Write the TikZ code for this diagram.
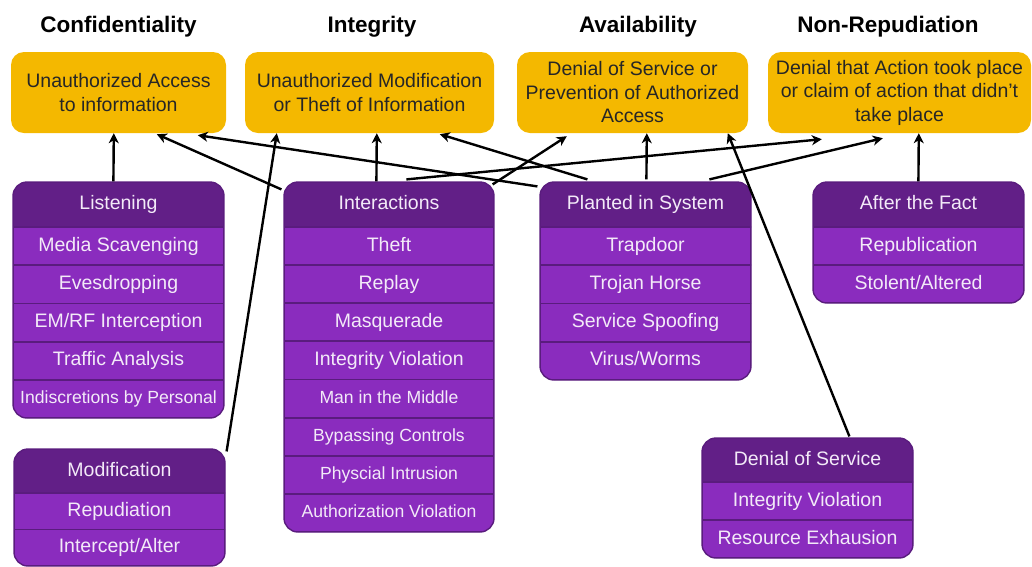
\documentclass[tikz,border=0pt]{standalone}
\usepackage{fontspec}
\setmainfont{Liberation Sans}
\usetikzlibrary{arrows.meta,calc}
\definecolor{gold}{HTML}{F4B800}
\definecolor{hdrc}{HTML}{621F87}
\definecolor{rowc}{HTML}{8A2CBE}
\definecolor{sepc}{HTML}{5A1C7E}
\definecolor{ptxt}{HTML}{F3EAF8}
\definecolor{ytxt}{HTML}{262626}
\newcommand{\fsz}[2]{\fontsize{#1}{#2}\selectfont}
\newcommand{\smf}{\fontsize{17.6}{20}\selectfont}
\tikzset{
  title/.style={font=\bfseries\fsz{22.5}{26}, text=black, inner sep=0, anchor=base},
  goal/.style={rounded corners=13, fill=gold, text=ytxt, align=center,
    font=\fsz{19.5}{23.5}, inner sep=0},
  hdrbox/.style={rectangle, fill=hdrc, draw=sepc, line width=1.2pt, inner sep=0,
    text=ptxt, font=\fsz{19.5}{23}, text height=14pt, text depth=4pt},
  rowbox/.style={rectangle, fill=rowc, draw=sepc, line width=1.8pt, inner sep=0,
    text=ptxt, font=\fsz{19.5}{23}, text height=14pt, text depth=4pt},
  frame/.style={draw=sepc, line width=1.4pt, rounded corners=14},
  conn/.style={-{Stealth[length=10pt,width=10pt,inset=3pt]}, line width=2.4pt, black},
}
\newcommand{\rowsat}[6]{%
  \foreach \t [count=\i] in {#6} {%
    \node[rowbox, minimum width=#5, minimum height=#4] (#1\i) at (#2, {#3+#4*\i-#4/2}) {\t};}}
\begin{document}
\begin{tikzpicture}[x=1pt,y=-1pt]
\useasboundingbox (0,0) rectangle (1032,566);

% titles
\node[title] (tC) at (118.5,32) {Confidentiality};
\node[title] (tI) at (372,32) {Integrity};
\node[title] (tA) at (638,32) {Availability};
\node[title] (tN) at (888,32) {Non-Repudiation};

% goal boxes
\node[goal, minimum width=215, minimum height=81] (conf) at (118.5,92.5) {Unauthorized Access\\to information};
\node[goal, minimum width=249, minimum height=81] (integ) at (369.5,92.5) {Unauthorized Modification\\or Theft of Information};
\node[goal, minimum width=231, minimum height=81] (avail) at (632.5,92.5) {Denial of Service or\\Prevention of Authorized\\Access};
\node[goal, minimum width=263, minimum height=81] (nonrep) at (899.5,92.5) {Denial that Action took place\\or claim of action that didn't\\take place};

% Listening
\begin{scope}
  \clip[rounded corners=14] (13,182) rectangle (224,418);
  \node[hdrbox, minimum width=211, minimum height=45] (lisH) at (118.5,204.5) {Listening};
  \rowsat{lis}{118.5}{227}{38.2}{211}{Media Scavenging, Evesdropping, EM/RF Interception, Traffic Analysis, {\smf Indiscretions by Personal}}
\end{scope}
\draw[frame] (13,182) rectangle (224,418);

% Interactions
\begin{scope}
  \clip[rounded corners=14] (284,182) rectangle (494,532);
  \node[hdrbox, minimum width=210, minimum height=45] (intH) at (389,204.5) {Interactions};
  \rowsat{int}{389}{227}{38.125}{210}{Theft, Replay, Masquerade, Integrity Violation, {\smf Man in the Middle}, {\smf Bypassing Controls}, {\smf Physcial Intrusion}, {\smf Authorization Violation}}
\end{scope}
\draw[frame] (284,182) rectangle (494,532);

% Planted in System
\begin{scope}
  \clip[rounded corners=14] (540,182) rectangle (751,380);
  \node[hdrbox, minimum width=211, minimum height=45] (plaH) at (645.5,204.5) {Planted in System};
  \rowsat{pla}{645.5}{227}{38.25}{211}{Trapdoor, Trojan Horse, Service Spoofing, Virus/Worms}
\end{scope}
\draw[frame] (540,182) rectangle (751,380);

% After the Fact
\begin{scope}
  \clip[rounded corners=14] (813,182) rectangle (1024,303);
  \node[hdrbox, minimum width=211, minimum height=45] (aftH) at (918.5,204.5) {After the Fact};
  \rowsat{aft}{918.5}{227}{38}{211}{Republication, Stolent/Altered}
\end{scope}
\draw[frame] (813,182) rectangle (1024,303);

% Modification
\begin{scope}
  \clip[rounded corners=14] (14,449) rectangle (225,566);
  \node[hdrbox, minimum width=211, minimum height=44] (modH) at (119.5,471) {Modification};
  \rowsat{mod}{119.5}{493}{36.5}{211}{Repudiation, Intercept/Alter}
\end{scope}
\draw[frame] (14,449) rectangle (225,566);

% Denial of Service
\begin{scope}
  \clip[rounded corners=14] (702,438) rectangle (913,558);
  \node[hdrbox, minimum width=211, minimum height=44] (dosH) at (807.5,460) {Denial of Service};
  \rowsat{dos}{807.5}{482}{38}{211}{Integrity Violation, Resource Exhausion}
\end{scope}
\draw[frame] (702,438) rectangle (913,558);

% connectors
\draw[conn] ($(lisH.north west)+(101,0)$) -- ($(conf.south west)+(103,0)$);
\draw[conn] ($(intH.north west)+(-2,8)$) -- ($(conf.south west)+(146,1)$);
\draw[conn] ($(plaH.north west)+(-2,5)$) -- ($(conf.south west)+(187,2)$);
\draw[conn] ($(modH.north east)+(1,3)$) -- ($(integ.south west)+(32,0)$);
\draw[conn] ($(intH.north west)+(93,0)$) -- ($(integ.south west)+(132,0)$);
\draw[conn] ($(plaH.north west)+(48,-2)$) -- ($(integ.south west)+(195,1)$);
\draw[conn] ($(intH.north west)+(123,-2)$) -- ($(nonrep.south west)+(54,6)$);
\draw[conn] ($(intH.north east)+(-2,3)$) -- ($(avail.south west)+(50,3)$);
\draw[conn] ($(plaH.north west)+(107,-2)$) -- ($(avail.south west)+(130,0)$);
\draw[conn] ($(plaH.north west)+(170,-2)$) -- ($(nonrep.south west)+(115,5)$);
\draw[conn] ($(dosH.north west)+(148,-1)$) -- ($(avail.south west)+(211,0)$);
\draw[conn] ($(aftH.north west)+(106,0)$) -- ($(nonrep.south west)+(151,0)$);
\end{tikzpicture}
\end{document}
